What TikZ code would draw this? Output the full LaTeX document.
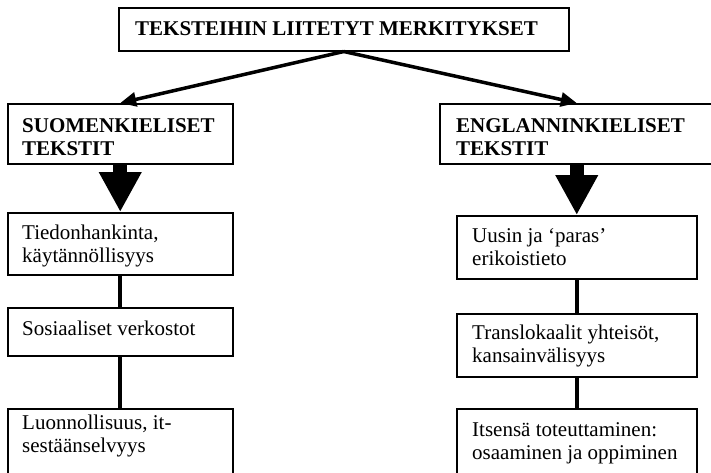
\documentclass[tikz,border=0pt]{standalone}
\usepackage{fontspec}
\setmainfont{Liberation Serif}
\usetikzlibrary{arrows.meta}
\begin{document}
\begin{tikzpicture}[x=1pt,y=-1pt,
  box/.style={draw, line width=1.5pt, rectangle, inner sep=0pt, anchor=north west},
  lbl/.style={anchor=base west, inner sep=0pt, font=\fontsize{21}{23.5}\selectfont},
  thinarrow/.style={line width=3.5pt, -{Triangle[length=16pt,width=14pt]}},
  bigarrow/.style={line width=14pt, -{Triangle[length=40pt,width=40pt]}},
  link/.style={line width=4pt}]
\useasboundingbox (0,0) rectangle (711,472);
\clip (0,0) rectangle (711,472);
% boxes
\node[box, minimum width=450pt, minimum height=43pt] (T) at (118,7) {};
\node[box, minimum width=225pt, minimum height=60pt] (LH) at (7,103) {};
\node[box, minimum width=225pt, minimum height=62pt] (L1) at (7,212) {};
\node[box, minimum width=225pt, minimum height=48pt] (L2) at (7,307) {};
\node[box, minimum width=225pt, minimum height=75pt] (L3) at (7,408) {};
\node[box, minimum width=290pt, minimum height=60pt] (RH) at (439,103) {};
\node[box, minimum width=240pt, minimum height=63pt] (R1) at (456,215) {};
\node[box, minimum width=240pt, minimum height=63pt] (R2) at (456,313) {};
\node[box, minimum width=240pt, minimum height=75pt] (R3) at (456,408) {};
% texts
\node[lbl, font=\fontsize{21}{23.5}\selectfont\bfseries] (tT) at (135,35) {TEKSTEIHIN LIITETYT MERKITYKSET};
\node[lbl] (tLH) at (22,132) {\parbox[t]{210pt}{\bfseries SUOMENKIELISET\\TEKSTIT}};
\node[lbl] (tL1) at (22,239) {\parbox[t]{210pt}{Tiedonhankinta,\\käytännöllisyys}};
\node[lbl] (tL2) at (22,335) {Sosiaaliset verkostot};
\node[lbl] (tL3) at (22,429) {\parbox[t]{210pt}{Luonnollisuus, it-\\sestäänselvyys}};
\node[lbl] (tRH) at (456,132) {\parbox[t]{250pt}{\bfseries ENGLANNINKIELISET\\TEKSTIT}};
\node[lbl] (tR1) at (472,242) {\parbox[t]{222pt}{Uusin ja ‘paras’\\erikoistieto}};
\node[lbl] (tR2) at (472,339) {\parbox[t]{222pt}{Translokaalit yhteisöt,\\kansainvälisyys}};
\node[lbl] (tR3) at (472,436) {\parbox[t]{222pt}{Itsensä toteuttaminen:\\osaaminen ja oppiminen}};
% connectors
\draw[thinarrow] (T.south) -- (LH.north);
\draw[thinarrow] (T.south) -- (R1.north |- RH.north);
\draw[bigarrow] (LH.south) -- (L1.north);
\draw[bigarrow] (R1.north |- RH.south) -- (R1.north);
\draw[link] (L1.south) -- (L2.north);
\draw[link] (L2.south) -- (L3.north);
\draw[link] (R1.south) -- (R2.north);
\draw[link] (R2.south) -- (R3.north);
\end{tikzpicture}
\end{document}
